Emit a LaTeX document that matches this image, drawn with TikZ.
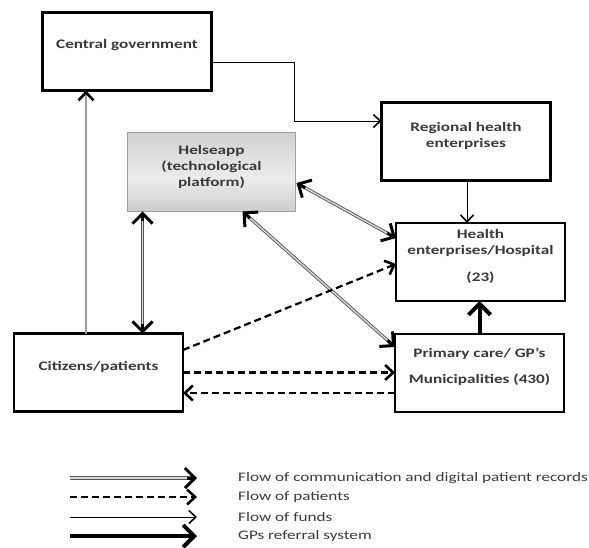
\documentclass[tikz,border=0pt]{standalone}
\usepackage{fontspec}
\setmainfont{Carlito}[FakeStretch=1.32]
\usetikzlibrary{arrows.meta,calc}
\definecolor{txt}{HTML}{3A3A3A}
\definecolor{dblline}{HTML}{555555}
\definecolor{apptop}{HTML}{D2D2D2}
\definecolor{appmid}{HTML}{ECECEC}
\definecolor{appbot}{HTML}{CDCDCD}
\begin{document}
\begin{tikzpicture}[x=1pt,y=-1pt,
  box/.style={draw=black, line width=2.8pt, fill=white, inner sep=0pt, outer sep=0pt,
    minimum width=169pt, minimum height=78pt},
  appbox/.style={draw=gray!75, line width=0.8pt, inner sep=0pt, outer sep=0pt,
    minimum width=168pt, minimum height=79pt},
  lbl/.style={font=\fontsize{13}{16}\selectfont\bfseries, text=txt, align=center, inner sep=0pt},
  legtxt/.style={font=\fontsize{13}{16}\selectfont, text=txt, anchor=west, inner sep=0pt},
  fundline/.style={draw=black, line width=0.9pt,
    -{Straight Barb[length=7pt,width=13pt,line width=1.6pt]}},
  fundgray/.style={draw=gray!75, line width=1.3pt,
    -{Straight Barb[length=8pt,width=15pt,line width=2.6pt,color=black]}},
  patient/.style={draw=black, line width=2.2pt, dash pattern=on 7pt off 4pt,
    -{Straight Barb[length=8pt,width=15pt,line width=2.6pt]}},
  referral/.style={draw=black, line width=4pt,
    -{Straight Barb[length=11pt,width=22pt,line width=4pt]}},
  comm/.style={draw=dblline, line width=0.9pt, double=white!85!black, double distance=1.4pt},
  commtip/.style={draw=black, line width=3pt,
    -{Straight Barb[length=10pt,width=20pt]}}
]
\useasboundingbox (0,0) rectangle (589,548);

% boxes
\node[box] (gov) at (127,51.5) {};
\node[box] (reg) at (466,141.5) {};
\node[box] (hosp) at (480.5,262) {};
\node[box] (prim) at (479.5,373) {};
\node[box] (cit) at (98.5,372.5) {};

% platform box: soft vertical gradient built from thin bands
\foreach \i in {0,...,39}{
  \pgfmathsetmacro{\t}{\i/39}
  \pgfmathsetmacro{\mix}{\t<0.6 ? 100*(1-\t/0.6) : 100*((\t-0.6)/0.4)}
  \ifdim\t pt<0.6pt
    \colorlet{band}{apptop!\mix!appmid}
  \else
    \colorlet{band}{appbot!\mix!appmid}
  \fi
  \fill[band] (127.5,{132.5+\i*1.975}) rectangle (295.5,{132.5+(\i+1)*1.975+0.3});
}
\node[appbox] (helse) at (211.5,172) {};

% box labels
\node[lbl] (govT) at (127,45) {Central government};
\node[lbl] (regT) at (466,136) {Regional health\\enterprises};
\node[lbl] (helseT) at (211.5,167) {Helseapp\\(technological\\platform)};
\node[lbl] (hospT) at (480.5,256) {Health\\enterprises/Hospital\\[11pt](23)};
\node[lbl] (primT) at (479.5,367) {Primary care/ GP’s\\[10pt]Municipalities (430)};
\node[lbl] (citT) at (98.5,367) {Citizens/patients};

% flow of funds
\coordinate (f1) at ($(cit.north west)+(72,0)$);
\draw[fundgray] (f1) -- (f1 |- gov.south);
\coordinate (f2) at ($(gov.east)+(0,10.5)$);
\coordinate (f3) at ($(reg.west)+(0,-20.5)$);
\draw[fundline] (f2) -- ++(83,0) |- (f3);
\coordinate (f4) at ($(reg.south)+(1,0)$);
\draw[fundline] (f4) -- (f4 |- hosp.north);

% GP referral
\draw[referral] (prim.north) -- (prim.north |- hosp.south);

% communication and digital patient records
\coordinate (a1) at ($(helse.south west)+(15,0)$);
\coordinate (a2) at (a1 |- cit.north);
\coordinate (b1) at ($(helse.east)+(1,11)$);
\coordinate (b2) at ($(hosp.west)+(0,-24)$);
\coordinate (c1) at ($(helse.south west)+(115,0)$);
\coordinate (c2) at ($(prim.west)+(0,-26)$);
\foreach \s/\e in {a1/a2, b1/b2, c1/c2}{
  \draw[comm, shorten <=5pt, shorten >=5pt] (\s) -- (\e);
  \draw[commtip] ($(\s)!10pt!(\e)$) -- (\s);
  \draw[commtip] ($(\e)!10pt!(\s)$) -- (\e);
}

% flow of patients
\draw[patient] ($(cit.east)+(0,-22.5)$) -- ($(hosp.west)+(0,2)$);
\draw[patient] (cit.east) -- (cit.east -| prim.west);
\coordinate (p1) at ($(prim.west)+(0,20)$);
\draw[patient] (p1) -- (p1 -| cit.east);

% legend
\coordinate (l1a) at (70,478);  \coordinate (l1b) at (197,478);
\coordinate (l2a) at (70,497);  \coordinate (l2b) at (197,497);
\coordinate (l3a) at (70,517);  \coordinate (l3b) at (197,517);
\coordinate (l4a) at (70,536);  \coordinate (l4b) at (197,536);
\draw[comm, shorten >=5pt] (l1a) -- (l1b);
\draw[commtip] ($(l1b)!10pt!(l1a)$) -- (l1b);
\draw[patient] (l2a) -- (l2b);
\draw[fundline] (l3a) -- (l3b);
\draw[referral] (l4a) -- (l4b);
\node[legtxt] (k1) at (238,478) {Flow of communication and digital patient records};
\node[legtxt] (k2) at (238,497) {Flow of patients};
\node[legtxt] (k3) at (238,517) {Flow of funds};
\node[legtxt] (k4) at (238,536) {GPs referral system};
\end{tikzpicture}
\end{document}
